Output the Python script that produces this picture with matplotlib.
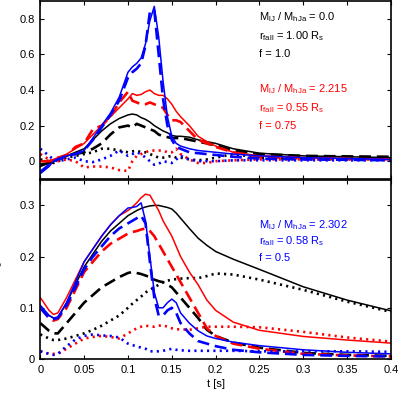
import numpy as np
import matplotlib
matplotlib.use('Agg')
import matplotlib.pyplot as plt
from matplotlib.ticker import FuncFormatter, MultipleLocator

# --- DADOS ---
t = [0, .01, .015, .02, .03, .04, .05, .06, .07, .08, .09, .10, .105, .11, .115,
     .12, .125, .13, .135, .14, .145, .15, .155, .16, .17, .18, .19, .20, .22,
     .25, .30, .35, .40]

# painel superior
top_black_solid = [-0.03, -0.01, 0.0, 0.01, 0.03, 0.05, 0.07, 0.12, 0.17, 0.21, 0.24, 0.26, 0.265,
                   0.26, 0.245, 0.235, 0.22, 0.2, 0.185, 0.17, 0.16, 0.145, 0.14, 0.14, 0.135, 0.12,
                   0.11, 0.1, 0.07, 0.045, 0.03, 0.025, 0.02]
top_black_dash = [-0.02, -0.01, 0.0, 0.01, 0.03, 0.04, 0.05, 0.07, 0.1, 0.15, 0.19, 0.2, 0.19,
                  0.21, 0.2, 0.19, 0.18, 0.17, 0.15, 0.14, 0.135, 0.13, 0.13, 0.13, 0.12, 0.11,
                  0.1, 0.09, 0.06, 0.04, 0.03, 0.027, 0.025]
top_black_dot = [0.01, 0.0, -0.01, 0.0, 0.02, 0.03, 0.04, 0.05, 0.07, 0.07, 0.06, 0.05, 0.055,
                 0.06, 0.05, 0.05, 0.04, 0.03, 0.02, 0.02, 0.025, 0.03, 0.02, 0.02, 0.01, 0.005,
                 0.01, 0.02, 0.04, 0.02, 0.015, 0.012, 0.01]
top_red_solid = [0.0, 0.0, 0.01, 0.02, 0.04, 0.07, 0.1, 0.15, 0.2, 0.25, 0.3, 0.35, 0.38, 0.37,
                 0.375, 0.39, 0.4, 0.38, 0.37, 0.37, 0.35, 0.32, 0.28, 0.25, 0.2, 0.14, 0.11,
                 0.085, 0.05, 0.03, 0.02, 0.015, 0.01]
top_red_dash = [0.0, 0.0, 0.01, 0.02, 0.03, 0.08, 0.1, 0.18, 0.2, 0.25, 0.33, 0.39, 0.34, 0.33,
                0.32, 0.32, 0.33, 0.32, 0.31, 0.3, 0.26, 0.23, 0.23, 0.22, 0.17, 0.12, 0.1,
                0.08, 0.05, 0.025, 0.015, 0.012, 0.01]
top_red_dot = [0.04, 0.01, 0.0, 0.0, 0.01, 0.0, -0.035, -0.03, -0.03, -0.035, -0.05, -0.055,
               0.0, 0.03, 0.04, 0.05, 0.06, 0.06, 0.06, 0.06, 0.05, 0.05, 0.07, 0.04, 0.01,
               -0.01, -0.01, 0.0, 0.005, 0.01, 0.01, 0.01, 0.01]
top_blue_solid = [-0.07, -0.03, 0.0, 0.01, 0.03, 0.04, 0.06, 0.13, 0.2, 0.27, 0.36, 0.5, 0.53,
                  0.55, 0.58, 0.66, 0.79, 0.87, 0.7, 0.45, 0.25, 0.14, 0.1, 0.085, 0.07, 0.06,
                  0.055, 0.05, 0.04, 0.03, 0.02, 0.015, 0.01]
top_blue_dash = [-0.06, -0.02, 0.0, 0.01, 0.03, 0.04, 0.06, 0.12, 0.19, 0.26, 0.34, 0.47, 0.5,
                 0.52, 0.55, 0.65, 0.84, 0.85, 0.6, 0.35, 0.2, 0.12, 0.08, 0.07, 0.05, 0.045,
                 0.04, 0.035, 0.025, 0.015, 0.01, 0.008, 0.005]
top_blue_dot = [0.07, 0.03, 0.01, 0.0, 0.01, 0.02, 0.0, -0.005, 0.01, 0.03, 0.06, 0.03, 0.04,
                0.05, 0.04, 0.02, 0.0, -0.02, -0.015, 0.0, -0.005, -0.01, 0.01, 0.03, 0.01,
                0.0, 0.0, 0.0, 0.005, 0.005, 0.005, 0.005, 0.005]

# painel inferior
bot_black_solid = [0.102, 0.085, 0.08, 0.08, 0.11, 0.145, 0.18, 0.205, 0.23, 0.25, 0.265, 0.28,
                   0.285, 0.29, 0.294, 0.297, 0.299, 0.3, 0.3, 0.298, 0.296, 0.293, 0.285, 0.275,
                   0.255, 0.236, 0.222, 0.21, 0.195, 0.175, 0.141, 0.115, 0.094]
bot_black_dash = [0.07, 0.055, 0.05, 0.05, 0.07, 0.09, 0.11, 0.125, 0.14, 0.15, 0.16, 0.168,
                  0.17, 0.168, 0.166, 0.163, 0.16, 0.155, 0.152, 0.15, 0.145, 0.14, 0.13, 0.12,
                  0.1, 0.08, 0.057, 0.045, 0.032, 0.022, 0.012, 0.008, 0.006]
bot_black_dot = [0.048, 0.04, 0.037, 0.037, 0.04, 0.045, 0.05, 0.057, 0.065, 0.075, 0.085, 0.1,
                 0.108, 0.115, 0.122, 0.13, 0.135, 0.14, 0.145, 0.15, 0.153, 0.155, 0.156,
                 0.157, 0.158, 0.158, 0.162, 0.167, 0.165, 0.155, 0.135, 0.112, 0.092]
bot_red_solid = [0.12, 0.095, 0.087, 0.09, 0.12, 0.155, 0.19, 0.215, 0.24, 0.262, 0.28, 0.29,
                 0.297, 0.305, 0.315, 0.322, 0.32, 0.305, 0.29, 0.27, 0.255, 0.24, 0.22, 0.2,
                 0.17, 0.145, 0.115, 0.095, 0.072, 0.056, 0.044, 0.037, 0.031]
bot_red_dash = [0.1, 0.08, 0.075, 0.078, 0.1, 0.135, 0.17, 0.19, 0.21, 0.225, 0.235, 0.245,
                0.248, 0.25, 0.253, 0.255, 0.25, 0.24, 0.225, 0.21, 0.195, 0.18, 0.165, 0.15,
                0.12, 0.09, 0.06, 0.045, 0.03, 0.02, 0.01, 0.007, 0.005]
bot_red_dot = [0.015, 0.01, 0.01, 0.01, 0.02, 0.03, 0.04, 0.043, 0.045, 0.043, 0.04, 0.05,
               0.055, 0.06, 0.063, 0.065, 0.064, 0.063, 0.065, 0.066, 0.063, 0.06, 0.058,
               0.058, 0.057, 0.06, 0.063, 0.063, 0.063, 0.062, 0.053, 0.042, 0.034]
bot_blue_solid = [0.105, 0.085, 0.08, 0.082, 0.11, 0.15, 0.19, 0.215, 0.24, 0.262, 0.28, 0.295,
                  0.296, 0.298, 0.305, 0.27, 0.2, 0.13, 0.1, 0.1, 0.11, 0.117, 0.11, 0.09, 0.07,
                  0.055, 0.045, 0.04, 0.033, 0.026, 0.018, 0.013, 0.01]
bot_blue_dash = [0.1, 0.08, 0.078, 0.08, 0.105, 0.14, 0.175, 0.2, 0.22, 0.24, 0.255, 0.265,
                 0.27, 0.275, 0.28, 0.265, 0.19, 0.12, 0.085, 0.085, 0.095, 0.1, 0.09, 0.07,
                 0.05, 0.035, 0.03, 0.025, 0.018, 0.013, 0.008, 0.006, 0.005]
bot_blue_dot = [0.015, 0.01, 0.008, 0.01, 0.025, 0.038, 0.045, 0.048, 0.046, 0.045, 0.042, 0.03,
                0.027, 0.025, 0.022, 0.02, 0.015, 0.015, 0.015, 0.016, 0.018, 0.02, 0.018,
                0.017, 0.016, 0.016, 0.016, 0.016, 0.016, 0.015, 0.015, 0.015, 0.014]

x_ticks = [0, 0.05, 0.1, 0.15, 0.2, 0.25, 0.3, 0.35, 0.4]

# --- ESTILO ---
plt.rcParams['font.family'] = ['Liberation Sans', 'DejaVu Sans']
plt.rcParams['mathtext.fontset'] = 'custom'
plt.rcParams['mathtext.rm'] = 'Liberation Sans'
plt.rcParams['mathtext.it'] = 'Liberation Sans:italic'
plt.rcParams['font.size'] = 8

SOLID = dict(lw=1.1, ls='-')
DASH = dict(lw=1.9, ls=(0, (4.5, 2.2)))
DOT = dict(lw=1.9, ls=(0, (0.8, 1.6)))

fig = plt.figure(figsize=(3.99, 3.99), dpi=100)
ax1 = fig.add_axes([0.101, 0.5514, 0.879, 0.446])
ax2 = fig.add_axes([0.101, 0.1003, 0.879, 0.449])

series_top = [
    (top_black_solid, 'black', SOLID), (top_black_dash, 'black', DASH), (top_black_dot, 'black', DOT),
    (top_red_solid, 'red', SOLID), (top_red_dash, 'red', DASH), (top_red_dot, 'red', DOT),
    (top_blue_solid, 'blue', SOLID), (top_blue_dash, 'blue', DASH), (top_blue_dot, 'blue', DOT),
]
series_bot = [
    (bot_black_solid, 'black', SOLID), (bot_black_dash, 'black', DASH), (bot_black_dot, 'black', DOT),
    (bot_red_solid, 'red', SOLID), (bot_red_dash, 'red', DASH), (bot_red_dot, 'red', DOT),
    (bot_blue_solid, 'blue', SOLID), (bot_blue_dash, 'blue', DASH), (bot_blue_dot, 'blue', DOT),
]

for y, c, st in series_top:
    ax1.plot(t, y, color=c, **st)
for y, c, st in series_bot:
    ax2.plot(t, y, color=c, **st)

fmt = FuncFormatter(lambda v, p: '%g' % round(v, 3))
for ax in (ax1, ax2):
    ax.set_xlim(0, 0.4)
    ax.set_xticks(x_ticks)
    ax.tick_params(direction='in', top=True, right=True, length=3, width=0.8,
                   labelsize=8, pad=4)
    ax.xaxis.set_major_formatter(fmt)
    ax.yaxis.set_major_formatter(fmt)
    for s in ax.spines.values():
        s.set_linewidth(1.2)

ax1.set_ylim(-0.1, 0.9)
ax1.yaxis.set_major_locator(MultipleLocator(0.2))
ax1.tick_params(labelbottom=False)
ax2.set_ylim(0, 0.35)
ax2.yaxis.set_major_locator(MultipleLocator(0.1))
ax2.set_xlabel('t [s]', labelpad=3)

# rótulos do eixo y (cortados na borda da figura, como no original)
fig.text(-0.006, 0.795, 'dM/dt', rotation=90, ha='center', va='center', fontsize=8)
fig.text(-0.004, 0.33, r'L$_{\rm c}$', rotation=90, ha='center', va='center', fontsize=8)

# anotações
x0 = 259 / 399
def bloco(ys, linhas, cor):
    for yy, s in zip(ys, linhas):
        fig.text(x0, 1 - yy / 399, s, color=cor, ha='left', va='center', fontsize=8)

bloco([17, 36, 54], [r'M$_{\rm lJ}$ / M$_{\rm hJa}$ = 0.0',
                     r'r$_{\rm fall}$ = 1.00 R$_{\rm s}$', 'f = 1.0'], 'black')
bloco([89, 108, 126], [r'M$_{\rm lJ}$ / M$_{\rm hJa}$ = 2.215',
                       r'r$_{\rm fall}$ = 0.55 R$_{\rm s}$', 'f = 0.75'], 'red')
bloco([225, 241, 258], [r'M$_{\rm lJ}$ / M$_{\rm hJa}$ = 2.302',
                        r'r$_{\rm fall}$ = 0.58 R$_{\rm s}$', 'f = 0.5'], 'blue')

fig.savefig('out.png', dpi=100)
